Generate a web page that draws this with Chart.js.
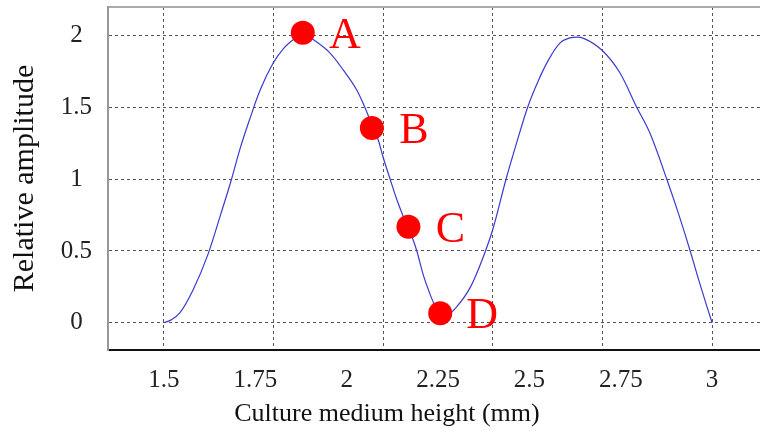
<!DOCTYPE html>
<html>
<head>
<meta charset="utf-8">
<script src="https://cdn.jsdelivr.net/npm/chart.js@4/dist/chart.umd.min.js"></script>
<style>
  html, body { margin: 0; padding: 0; background: #fff; }
</style>
</head>
<body>
<canvas id="chart" width="760" height="445"></canvas>
<script>
// --- Data ---
const curveX = [1.5, 1.52, 1.544, 1.58, 1.621, 1.656, 1.685, 1.708, 1.735, 1.763, 1.799, 1.827, 1.845, 1.87, 1.89,
  1.913, 1.954, 1.991, 2.028, 2.05, 2.069, 2.087, 2.099, 2.119, 2.137, 2.155, 2.169, 2.183, 2.192, 2.21, 2.228,
  2.245, 2.262, 2.28, 2.301, 2.339, 2.374, 2.401, 2.436, 2.467, 2.495, 2.525, 2.552, 2.584, 2.611, 2.63, 2.65,
  2.698, 2.748, 2.794, 2.83, 2.876, 2.908, 2.94, 2.963, 2.986, 3.0];
const curveY = [0, 0.02, 0.07, 0.23, 0.48, 0.76, 1.0, 1.21, 1.42, 1.62, 1.81, 1.91, 1.955, 1.995, 2.0,
  1.965, 1.88, 1.76, 1.62, 1.5, 1.38, 1.27, 1.16, 1.0, 0.86, 0.74, 0.66, 0.57, 0.5, 0.33, 0.2,
  0.1, 0.05, 0.06, 0.11, 0.25, 0.46, 0.66, 1.0, 1.27, 1.5, 1.69, 1.83, 1.95, 1.985, 1.99, 1.98,
  1.9, 1.74, 1.5, 1.32, 1.0, 0.76, 0.5, 0.3, 0.11, 0];

const markerNames = ['A', 'B', 'C', 'D'];
const markerX = [1.88, 2.069, 2.169, 2.256];
const markerY = [2.02, 1.357, 0.669, 0.066];

const xTickLabels = [1.5, 1.75, 2, 2.25, 2.5, 2.75, 3];
const xGridTicks = [1.5, 1.8, 2.1, 2.4, 2.7, 3.0];
const yTicks = [0, 0.5, 1, 1.5, 2];

const serif = '"Liberation Serif", "Times New Roman", serif';

// union of label ticks and grid ticks, so one axis can carry both
const xAllTicks = [...new Set([...xTickLabels, ...xGridTicks])].sort((a, b) => a - b);
const isGrid = v => xGridTicks.some(g => Math.abs(g - v) < 1e-9);
const isLabel = v => xTickLabels.some(g => Math.abs(g - v) < 1e-9);

// scales add label padding on their own; the figure's frame is fixed, so drop it
const noPad = s => { s.paddingLeft = 0; s.paddingRight = 0; s.paddingTop = 0; s.paddingBottom = 0; };

// --- Letters next to the red markers ---
const letterPlugin = {
    id: 'letters',
    afterDatasetsDraw(chart) {
        const meta = chart.getDatasetMeta(0);
        const ctx = chart.ctx;
        ctx.save();
        ctx.fillStyle = '#ff0000';
        ctx.font = '44px ' + serif;
        ctx.textAlign = 'center';
        ctx.textBaseline = 'alphabetic';
        meta.data.forEach((pt, i) => {
            ctx.fillText(markerNames[i], pt.x + 42, pt.y + 15);
        });
        ctx.restore();
    }
};

new Chart(document.getElementById('chart').getContext('2d'), {
    type: 'scatter',
    data: {
        datasets: [{
            label: 'Points',
            data: markerX.map((x, i) => ({ x, y: markerY[i] })),
            pointRadius: 12,
            pointHoverRadius: 12,
            backgroundColor: '#ff0000',
            borderWidth: 0
        }, {
            label: 'Amplitude',
            data: curveX.map((x, i) => ({ x, y: curveY[i] })),
            showLine: true,
            borderColor: '#3a3acf',
            borderWidth: 1.2,
            pointRadius: 0,
            cubicInterpolationMode: 'monotone'
        }]
    },
    options: {
        responsive: false,
        animation: false,
        layout: { autoPadding: false, padding: { left: 14, top: 7, right: 0, bottom: 0 } },
        plugins: {
            legend: { display: false },
            tooltip: { enabled: false },
            title: {
                display: true,
                text: 'Culture medium height (mm)',
                position: 'bottom',
                color: '#111',
                font: { family: serif, size: 26, weight: 'normal' },
                padding: { top: 0, bottom: 15 }
            }
        },
        scales: {
            x: {
                type: 'linear',
                position: 'bottom',
                min: 1.347,
                max: 3.131,
                afterBuildTicks: s => { s.ticks = xAllTicks.map(v => ({ value: v })); },
                afterFit: s => { s.height = 48.8; noPad(s); },
                ticks: {
                    autoSkip: false,
                    maxRotation: 0,
                    padding: 15,
                    color: '#222',
                    font: { family: serif, size: 25 },
                    callback: v => isLabel(v) ? String(v) : ''
                },
                grid: {
                    drawTicks: false,
                    color: ctx => (ctx.tick && isGrid(ctx.tick.value)) ? '#555' : 'rgba(0,0,0,0)',
                    lineWidth: 1
                },
                border: { display: true, color: '#111', width: 2, dash: [3, 3] }
            },
            xTop: {
                type: 'linear',
                position: 'top',
                afterFit: s => { s.height = 0; noPad(s); },
                ticks: { display: false },
                grid: { display: false, drawTicks: false },
                border: { display: true, color: '#aaa', width: 2 }
            },
            y: {
                type: 'linear',
                min: -0.19,
                max: 2.2,
                afterBuildTicks: s => { s.ticks = yTicks.map(v => ({ value: v })); },
                afterFit: s => { s.width = 94; noPad(s); },
                ticks: {
                    crossAlign: 'center',
                    padding: 16,
                    color: '#222',
                    font: { family: serif, size: 25 },
                    callback: v => String(v)
                },
                grid: { drawTicks: false, color: '#555', lineWidth: 1 },
                border: { display: true, color: '#999', width: 2, dash: [3, 3] },
                title: {
                    display: true,
                    text: 'Relative amplitude',
                    color: '#111',
                    font: { family: serif, size: 30, lineHeight: 1 },
                    padding: { top: -4, bottom: 0 }
                }
            }
        }
    },
    plugins: [letterPlugin]
});
</script>
</body>
</html>
